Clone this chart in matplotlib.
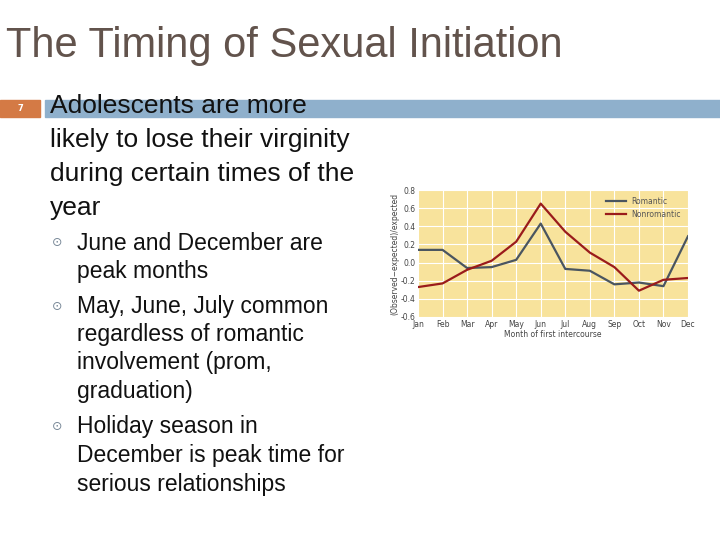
import matplotlib
matplotlib.use("Agg")
import matplotlib.pyplot as plt
from matplotlib.patches import Rectangle

months = ["Jan","Feb","Mar","Apr","May","Jun","Jul","Aug","Sep","Oct","Nov","Dec"]
romantic = [0.14,0.14,-0.06,-0.05,0.03,0.43,-0.07,-0.09,-0.24,-0.22,-0.26,0.29]
nonromantic = [-0.27,-0.23,-0.08,0.02,0.23,0.65,0.34,0.11,-0.05,-0.31,-0.19,-0.17]
yticks = [-0.6,-0.4,-0.2,0.0,0.2,0.4,0.6,0.8]

SANS = ["Liberation Sans", "DejaVu Sans"]
fig = plt.figure(figsize=(7.2,5.4), dpi=100)
fig.patch.set_facecolor("white")

fig.text(0.008, 1-46/540, "The Timing of Sexual Initiation", fontsize=30, color="#62534c", va="center", family=SANS)
fig.add_artist(Rectangle((0,1-117/540),40/720,17/540, transform=fig.transFigure, color="#d47a45"))
fig.add_artist(Rectangle((45/720,1-117/540),675/720,17/540, transform=fig.transFigure, color="#8fb0cc"))
fig.text(20/720, 1-108.5/540, "7", fontsize=6, color="white", ha="center", va="center", weight="bold")

main = ["Adolescents are more", "likely to lose their virginity", "during certain times of the", "year"]
for i, l in enumerate(main):
    fig.text(50/720, 1-(106+34*i)/540, l, fontsize=19, color="#111111", va="center", family=SANS)

bullets = [(243, ["June and December are", "peak months"]),
           (306, ["May, June, July common", "regardless of romantic", "involvement (prom,", "graduation)"]),
           (427, ["Holiday season in", "December is peak time for", "serious relationships"])]
for y0, lines in bullets:
    fig.text(57/720, 1-y0/540, "\u2299", fontsize=9, color="#7a8a99", va="center", ha="center")
    for j, l in enumerate(lines):
        fig.text(77/720, 1-(y0+28.5*j)/540, l, fontsize=16.5, color="#111111", va="center", family=SANS)

ax = fig.add_axes([418/720, 1-317/540, 270/720, 127/540])
ax.set_facecolor("#f8e39c")
x = range(len(months))
ax.plot(x, romantic, color="#4a5560", lw=1.6, label="Romantic")
ax.plot(x, nonromantic, color="#9a1b1b", lw=1.6, label="Nonromantic")
ax.set_xlim(0, 11)
ax.set_ylim(-0.6, 0.8)
ax.set_yticks(yticks)
ax.set_yticklabels([f"{v:.1f}" for v in yticks])
ax.set_xticks(list(x))
ax.set_xticklabels(months)
ax.grid(True, color="white", lw=0.8)
ax.set_axisbelow(True)
ax.tick_params(labelsize=5.5, colors="#444444", length=0, pad=2)
for s in ax.spines.values():
    s.set_visible(False)
ax.set_xlabel("Month of first intercourse", fontsize=5.5, color="#444444", labelpad=1)
ax.set_ylabel("(Observed\u2212expected)/expected", fontsize=5.5, color="#444444", labelpad=1)
ax.legend(loc="upper right", fontsize=5.5, frameon=False, handlelength=2.5, labelcolor="#555555")

fig.savefig("out.png", dpi=100)
